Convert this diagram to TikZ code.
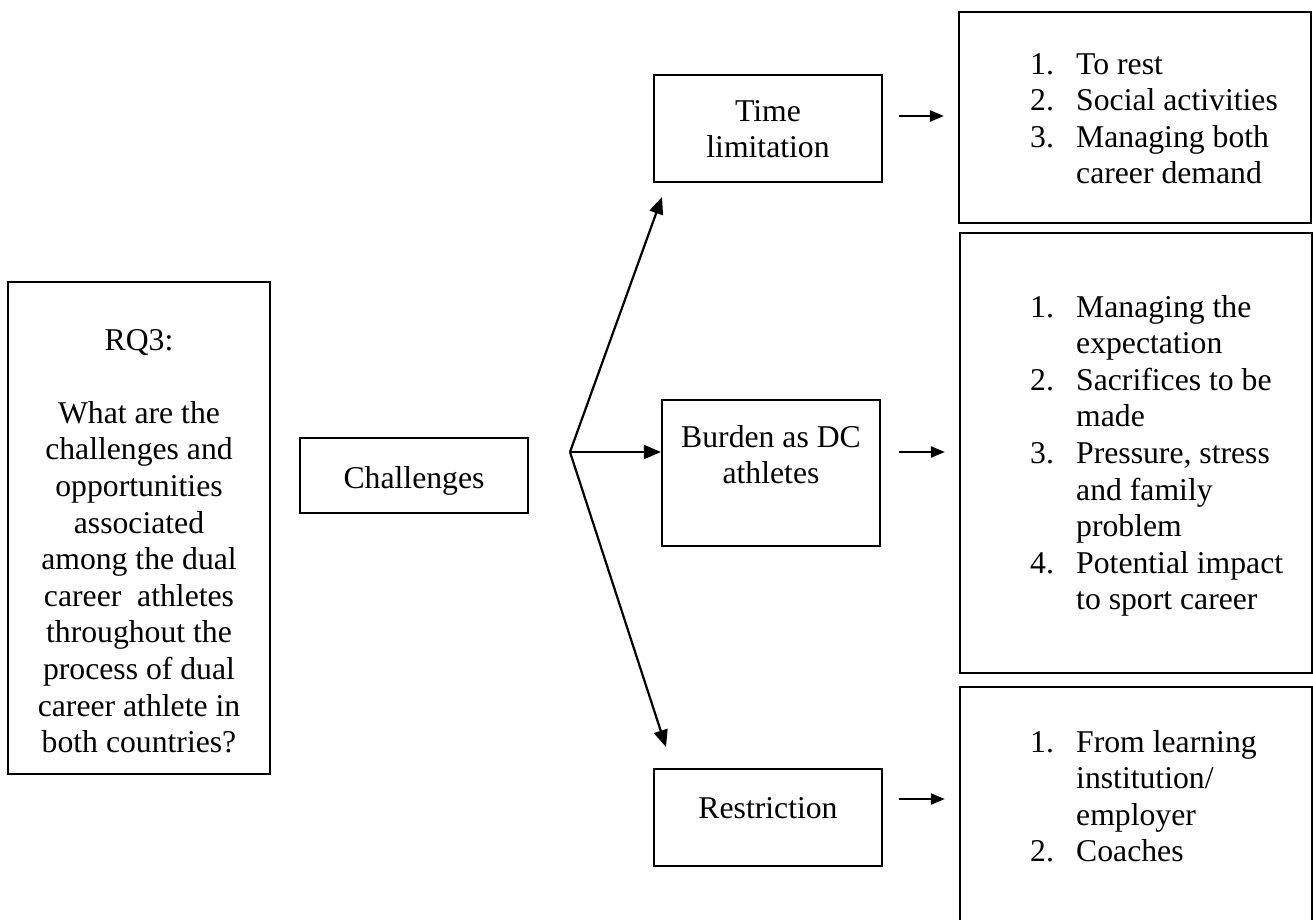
\documentclass[tikz,border=0pt]{standalone}
\usepackage{fontspec}
\setmainfont{Liberation Serif}
\usetikzlibrary{arrows.meta}
\begin{document}
\begin{tikzpicture}[x=1pt,y=-1pt,
  box/.style={draw, line width=2.2pt, inner sep=0pt, minimum width=#1},
  txt/.style={inner sep=0pt, font=\fontsize{31.7}{36.6}\selectfont},
  conn/.style={line width=2.2pt, -{Triangle[length=17pt,width=14pt]}},
  small/.style={line width=2.2pt, -{Triangle[length=14pt,width=11pt]}}]
\useasboundingbox (0,0) rectangle (1313,919);

% boxes (centre, width, height)
\node[box=262pt, minimum height=492pt] (rq) at (139,528) {};
\node[box=228pt, minimum height=75pt]  (ch) at (414,475.5) {};
\node[box=228pt, minimum height=107pt] (tl) at (768,128.5) {};
\node[box=218pt, minimum height=146pt] (bd) at (771,473) {};
\node[box=228pt, minimum height=97pt]  (rs) at (768,817.5) {};
\node[box=352pt, minimum height=211pt] (l1) at (1135,117.5) {};
\node[box=352pt, minimum height=440pt] (l2) at (1136,453) {};
\node[box=352pt, minimum height=250pt] (l3) at (1136,812) {};

% texts
\node[txt, anchor=base] (rqt) at (139,350) {\begin{tabular}[t]{@{}c@{}}
RQ3:\\ \\ What are the\\ challenges and\\ opportunities\\ associated\\
among the dual\\ career\ \ athletes\\ throughout the\\ process of dual\\
career athlete in\\ both countries?\end{tabular}};
\node[txt, anchor=base] (cht) at (414,488) {Challenges};
\node[txt, anchor=base] (tlt) at (768,121) {\begin{tabular}[t]{@{}c@{}}Time\\ limitation\end{tabular}};
\node[txt, anchor=base] (bdt) at (771,447) {\begin{tabular}[t]{@{}c@{}}Burden as DC\\ athletes\end{tabular}};
\node[txt, anchor=base] (rst) at (768,818) {Restriction};

\node[txt, anchor=base west] (l1t) at (1030,74) {\begin{tabular}[t]{@{}p{46pt}@{}l@{}}
1. & To rest\\ 2. & Social activities\\ 3. & Managing both\\ & career demand\end{tabular}};
\node[txt, anchor=base west] (l2t) at (1030,317) {\begin{tabular}[t]{@{}p{46pt}@{}l@{}}
1. & Managing the\\ & expectation\\ 2. & Sacrifices to be\\ & made\\
3. & Pressure, stress\\ & and family\\ & problem\\ 4. & Potential impact\\ & to sport career\end{tabular}};
\node[txt, anchor=base west] (l3t) at (1030,752) {\begin{tabular}[t]{@{}p{46pt}@{}l@{}}
1. & From learning\\ & institution/\\ & employer\\ 2. & Coaches\end{tabular}};

% connector ends
\coordinate (fork) at (570,452);
\coordinate (toTl) at (662,197);
\coordinate (toBd) at (bd.west |- fork);
\coordinate (toRs) at (666,747);
\coordinate (o1) at (899,116);  \coordinate (i1) at (l1.west |- o1);
\coordinate (o2) at (899,452);  \coordinate (i2) at (l2.west |- o2);
\coordinate (o3) at (899,799);  \coordinate (i3) at (l3.west |- o3);

\draw[conn] (fork) -- (toTl);
\draw[conn] (fork) -- (toBd);
\draw[conn] (fork) -- (toRs);
\draw[small, shorten >=14pt] (o1) -- (i1);
\draw[small, shorten >=14pt] (o2) -- (i2);
\draw[small, shorten >=14pt] (o3) -- (i3);
\end{tikzpicture}
\end{document}
